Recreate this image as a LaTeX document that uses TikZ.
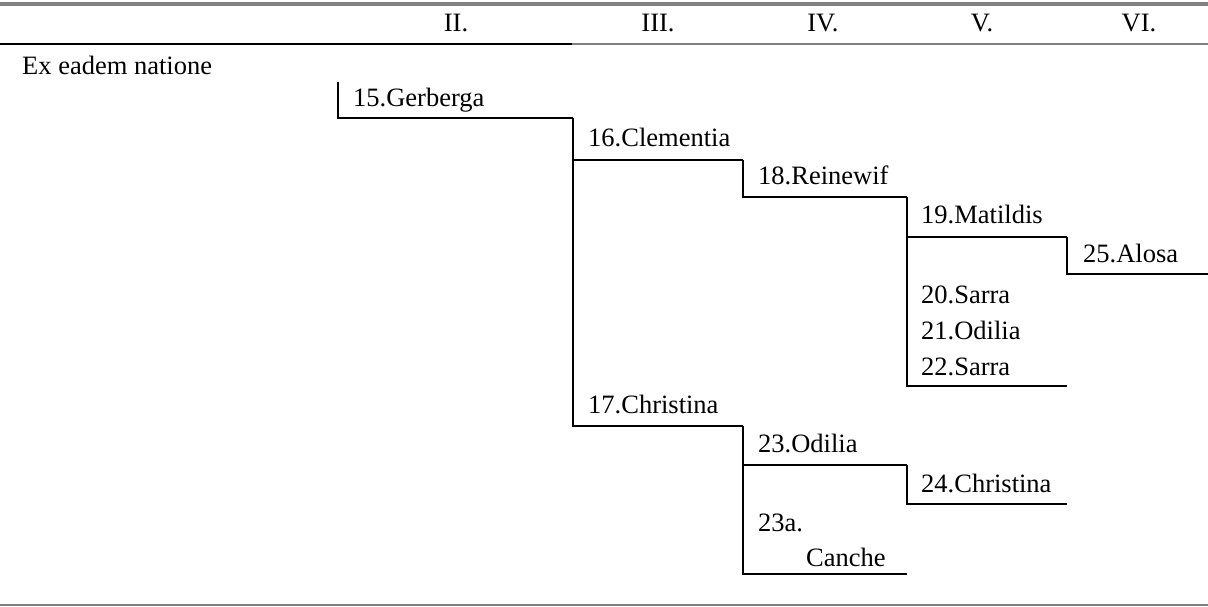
\documentclass[tikz,border=0pt]{standalone}
\usepackage{fontspec}
\setmainfont{Liberation Serif}
\definecolor{rulegray}{HTML}{808080}
\begin{document}
\begin{tikzpicture}[x=1pt,y=-1pt,
  lbl/.style={anchor=base west, inner sep=0pt, font=\fontsize{26.5}{30}\selectfont},
  hdr/.style={anchor=base, inner sep=0pt, font=\fontsize{26.5}{30}\selectfont},
  br/.style={draw=black, line width=2pt}]
\useasboundingbox (0,0) rectangle (1208,606);
% rules
\fill[rulegray] (0,2) rectangle (1208,6);
\draw[black, line width=2.3pt] (0,44) -- (572,44);
\draw[rulegray, line width=2.3pt] (572,44) -- (1208,44);
\draw[rulegray, line width=1.6pt] (0,605) -- (1208,605);
% header
\node[hdr] (h2) at (456,31) {II.};
\node[hdr] (h3) at (658,31) {III.};
\node[hdr] (h4) at (823,31) {IV.};
\node[hdr] (h5) at (982,31) {V.};
\node[hdr] (h6) at (1139,31) {VI.};
% labels
\node[lbl] (ex) at (22,74) {Ex eadem natione};
\node[lbl] (n15) at (353,106) {15.Gerberga};
\node[lbl] (n16) at (588,146) {16.Clementia};
\node[lbl] (n18) at (758,184) {18.Reinewif};
\node[lbl] (n19) at (921,223) {19.Matildis};
\node[lbl] (n25) at (1083,262) {25.Alosa};
\node[lbl] (n20) at (921,303) {20.Sarra};
\node[lbl] (n21) at (921,339) {21.Odilia};
\node[lbl] (n22) at (921,375) {22.Sarra};
\node[lbl] (n17) at (588,413) {17.Christina};
\node[lbl] (n23) at (758,452) {23.Odilia};
\node[lbl] (n24) at (921,492) {24.Christina};
\node[lbl] (n23a) at (758,531) {23a.};
\node[lbl] (nca) at (806,566) {Canche};
% bracket corners
\coordinate (gTop) at (338,82);
\coordinate (gEnd) at (573,118);
\coordinate (cEnd) at (743,160);
\coordinate (cTop) at (573,160);
\coordinate (chEnd) at (743,426);
\coordinate (rEnd) at (907,197);
\coordinate (mEnd) at (1067,237);
\coordinate (aEnd) at (1208,274);
\coordinate (sTop) at (907,237);
\coordinate (sEnd) at (1067,386);
\coordinate (oEnd) at (907,465);
\coordinate (kEnd) at (907,574);
\coordinate (xTop) at (743,465);
\coordinate (xEnd) at (1067,504);
% brackets
\draw[br] (gTop) |- (gEnd);
\draw[br] (gEnd) |- (cEnd);
\draw[br] (cTop) |- (chEnd);
\draw[br] (cEnd) |- (rEnd);
\draw[br] (rEnd) |- (mEnd);
\draw[br] (mEnd) |- (aEnd);
\draw[br] (sTop) |- (sEnd);
\draw[br] (chEnd) |- (oEnd);
\draw[br] (xTop) |- (kEnd);
\draw[br] (oEnd) |- (xEnd);
\end{tikzpicture}
\end{document}
